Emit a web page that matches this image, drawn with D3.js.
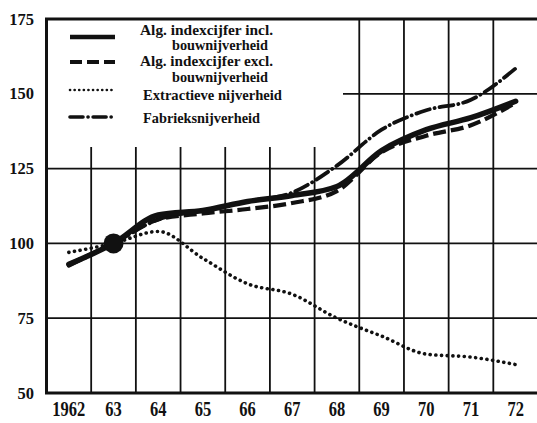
<!DOCTYPE html>
<html>
<head>
<meta charset="utf-8">
<script src="https://cdn.jsdelivr.net/npm/d3@7"></script>
<style>
  body { margin: 0; background: #fff; }
  text { font-family: "Liberation Serif", "DejaVu Serif", serif; font-weight: bold; fill: #111; }
</style>
</head>
<body>
<div id="chart"></div>
<script>
// Index numbers of industrial production, 1963 = 100.
const years = ["1962", "63", "64", "65", "66", "67", "68", "69", "70", "71", "72"];
const yTicks = [50, 75, 100, 125, 150, 175];

const inclBouw  = [93, 100, 109.5, 111, 114, 116, 119, 131, 138, 142, 147.5];
const exclBouw  = [93, 100, 108, 110, 111.5, 113.5, 117.5, 130.5, 136, 139.5, 147];
const extractie = [97, 100, 104, 95, 86.5, 83, 75, 69, 63, 62, 59.5];
const fabrieks  = [92.5, 100, 108, 111, 114, 117, 126, 138, 144.5, 148, 158.5];

const legendLabels = [
  ["Alg. indexcijfer incl.", "bouwnijverheid"],
  ["Alg. indexcijfer excl.", "bouwnijverheid"],
  ["Extractieve nijverheid"],
  ["Fabrieksnijverheid"]
];

const W = 537, H = 423;
const svg = d3.select("#chart").append("svg")
    .attr("width", W)
    .attr("height", H);

let x = d3.scaleBand()
    .domain(years)
    .range([46.5, 538])
    .padding(0);

let y = d3.scaleLinear()
    .domain([50, 175])
    .range([393, 19]);

const ink = "#111";

// Vertical grid lines on the year boundaries (the left ones stop under the legend).
let bounds = years.slice(1).map(d => x(d));
svg.append("g").selectAll("line")
    .data(bounds)
    .join("line")
    .attr("x1", d => d).attr("x2", d => d)
    .attr("y1", d => d < 340 ? 147 : y(175))
    .attr("y2", y(50))
    .attr("stroke", ink)
    .attr("stroke-width", 1.8);

// Horizontal grid lines.
svg.append("g").selectAll("line")
    .data([75, 100, 125, 150])
    .join("line")
    .attr("x1", d => d === 150 ? 343 : x.range()[0])
    .attr("x2", W)
    .attr("y1", d => y(d)).attr("y2", d => y(d))
    .attr("stroke", ink)
    .attr("stroke-width", 1.8);

// Frame: left axis, bottom axis and top line.
svg.append("path")
    .attr("d", `M${W},${y(175)} H${x.range()[0]} V${y(50)} H${W}`)
    .attr("fill", "none")
    .attr("stroke", ink)
    .attr("stroke-width", 3);

// Y tick labels.
svg.append("g").selectAll("text")
    .data(yTicks)
    .join("text")
    .attr("x", 34)
    .attr("y", d => y(d) + 5.5)
    .attr("text-anchor", "end")
    .attr("font-size", 16.5)
    .text(d => d);

// X tick labels (tall, narrow figures).
svg.append("g").selectAll("text")
    .data(years)
    .join("text")
    .attr("transform", d => `translate(${x(d) + x.bandwidth() / 2},416) scale(1,1.25)`)
    .attr("text-anchor", "middle")
    .attr("font-size", 16.5)
    .text(d => d);

const cx = (d, i) => x(years[i]) + x.bandwidth() / 2;
const line = d3.line().x(cx).y(d => y(d)).curve(d3.curveMonotoneX);

const series = [
  {values: extractie, width: 3.6, dash: "0.1 5.6", cap: "round"},
  {values: exclBouw,  width: 4.2, dash: "13 5",    cap: "butt"},
  {values: fabrieks,  width: 3.8, dash: "14 5 0.1 5", cap: "round"},
  {values: inclBouw,  width: 5.5, dash: null,      cap: "round"}
];

series.forEach(s => {
  svg.append("path")
      .datum(s.values)
      .attr("fill", "none")
      .attr("stroke", ink)
      .attr("stroke-width", s.width)
      .attr("stroke-linecap", s.cap)
      .attr("stroke-dasharray", s.dash)
      .attr("d", line);
});

// Base-year marker.
svg.append("circle")
    .attr("cx", cx(null, 1))
    .attr("cy", y(100))
    .attr("r", 10)
    .attr("fill", ink);

// Legend.
const legendStyles = [
  {width: 4.5, dash: null, cap: "butt", y: 37},
  {width: 4,   dash: "12 5", cap: "butt", y: 62},
  {width: 2.6, dash: "0.1 4.5", cap: "round", y: 90},
  {width: 3.6, dash: "13 5 0.1 5", cap: "round", y: 117}
];
// [x, baseline, width] for each legend text line.
const textPos = [
  [[140, 35, 133], [172, 50, 96]],
  [[140, 66, 133], [172, 82, 96]],
  [[143, 100, 139]],
  [[143, 123, 117]]
];

legendStyles.forEach((st, i) => {
  svg.append("line")
      .attr("x1", 70).attr("x2", 115)
      .attr("y1", st.y).attr("y2", st.y)
      .attr("stroke", ink)
      .attr("stroke-width", st.width)
      .attr("stroke-dasharray", st.dash)
      .attr("stroke-linecap", st.cap);
  legendLabels[i].forEach((t, j) => {
    svg.append("text")
        .attr("x", textPos[i][j][0])
        .attr("y", textPos[i][j][1])
        .attr("font-size", 14)
        .attr("textLength", textPos[i][j][2])
        .attr("lengthAdjust", "spacingAndGlyphs")
        .text(t);
  });
});
</script>
</body>
</html>
